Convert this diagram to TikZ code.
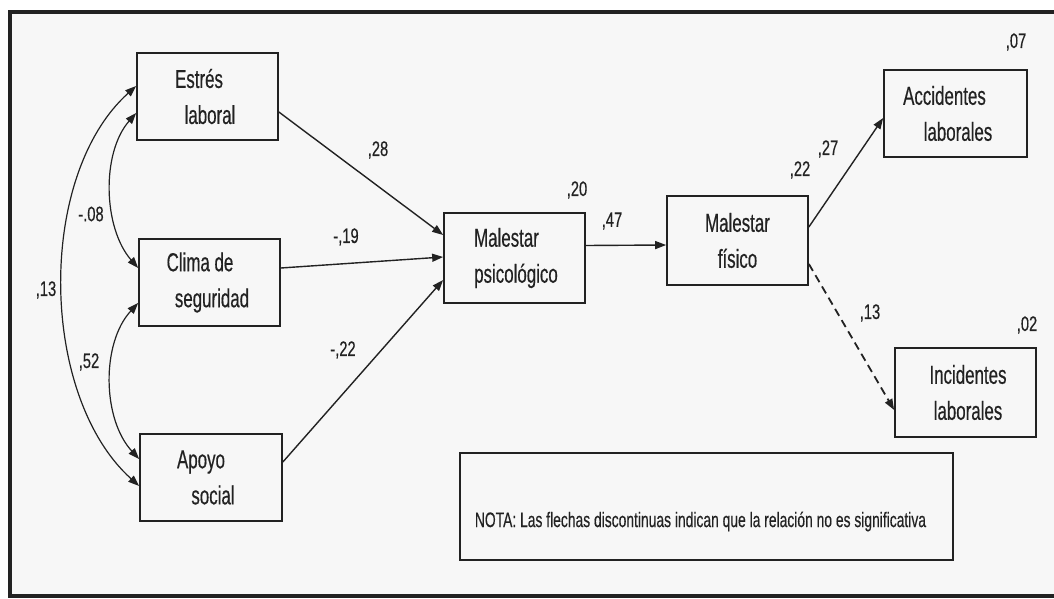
\documentclass[tikz,border=0pt]{standalone}
\usepackage{fontspec}
\newfontfamily\boxfont[FakeStretch=0.65,FakeBold=0.4]{Liberation Sans}
\newfontfamily\numfont[FakeStretch=0.7,FakeBold=0.4]{Liberation Sans}
\newfontfamily\notafont[FakeStretch=0.66,FakeBold=0.3]{Liberation Sans}
\usetikzlibrary{arrows.meta}
\definecolor{bg}{HTML}{F7F7F7}
\definecolor{ink}{HTML}{222222}
\newcommand{\shl}[1]{\hspace*{#1}}
\begin{document}
\begin{tikzpicture}[x=1pt,y=-1pt,
  var/.style={draw=ink, line width=1.7pt, fill=bg, minimum width=141pt, minimum height=87pt,
    inner sep=0pt, align=center, text=ink, font=\boxfont\fontsize{26}{36}\selectfont},
  coef/.style={text=ink, inner sep=0pt, font=\numfont\fontsize{21}{24}\selectfont},
  link/.style={draw=ink, line width=1.4pt, -{Triangle[length=11pt,width=8pt]}},
  cov/.style={draw=ink, line width=1.2pt, {Triangle[length=11pt,width=8pt]}-{Triangle[length=11pt,width=8pt]}},
]
\useasboundingbox (0,0) rectangle (1054,599);
\fill[white] (0,0) rectangle (1054,599);
\fill[bg] (10,12) rectangle (1054,596);
\draw[line width=4pt, ink] (1060,12) -- (10,12) -- (10,596) -- (1060,596);

% variables
\node[var] (est) at (207.5,96.5) {\shl{-17pt}Estrés\\\shl{5pt}laboral};
\node[var] (cli) at (209.5,282.5) {\shl{-19pt}Clima de\\\shl{5pt}seguridad};
\node[var, minimum width=142pt] (apo) at (211,477.5) {\shl{-20pt}Apoyo\\\shl{4pt}social};
\node[var, minimum height=90pt] (mps) at (514.5,258) {\shl{-16pt}Malestar\\\shl{3pt}psicológico};
\node[var, minimum height=89pt] (mfi) at (737.5,240.5) {Malestar\\físico};
\node[var, minimum width=143pt] (acc) at (955.5,113.5) {\shl{-22pt}Accidentes\\\shl{5pt}laborales};
\node[var, minimum height=89pt] (inc) at (965.5,392.5) {\shl{5pt}Incidentes\\\shl{5pt}laborales};
\node[draw=ink, line width=1.7pt, fill=bg, minimum width=493pt, minimum height=107pt, inner sep=0pt] (nota) at (706.5,506.5) {};
\node[text=ink, inner sep=0pt, font=\notafont\fontsize{21}{24}\selectfont] (notatxt) at ([xshift=-6pt,yshift=-15pt]nota.center)
  {NOTA: Las flechas discontinuas indican que la relación no es significativa};

% regression paths
\draw[link] ([yshift=-15.5pt]est.east) -- ([yshift=23pt]mps.west);
\draw[link] ([yshift=14.5pt]cli.east) -- ([yshift=1pt]mps.west);
\draw[link] ([yshift=15.5pt]apo.east) -- ([yshift=-22pt]mps.west);
\draw[link] ([yshift=12.5pt]mps.east) -- ([yshift=-4.5pt]mfi.west);
\draw[link] ([yshift=13.5pt]mfi.east) -- ([yshift=-4.5pt]acc.west);
\draw[link, line width=1.8pt, dash pattern=on 8pt off 5pt] ([yshift=-23.5pt]mfi.east) -- ([yshift=-17.5pt]inc.west);

% covariances
\draw[cov] ([yshift=-16.5pt]est.west) .. controls +(-35,40) and +(-35,-40) .. ([yshift=14.5pt]cli.west);
\draw[cov] ([yshift=-20.5pt]cli.west) .. controls +(-37,40) and +(-37,-40) .. ([yshift=18.5pt]apo.west);
\draw[cov] ([yshift=10.5pt]est.west) .. controls +(-100,90) and +(-100,-90) .. ([yshift=-8.5pt]apo.west);

% coefficients
\node[coef] (k1) at (91,214) {-.08};
\node[coef] (k2) at (46,290) {,13};
\node[coef] (k3) at (89,362) {,52};
\node[coef] (k4) at (378,150) {,28};
\node[coef] (k5) at (346,237) {-,19};
\node[coef] (k6) at (343,350) {-,22};
\node[coef] (k7) at (577,190) {,20};
\node[coef] (k8) at (612,221) {,47};
\node[coef] (k9) at (800,170) {,22};
\node[coef] (k10) at (828,149) {,27};
\node[coef] (k11) at (1016,42) {,07};
\node[coef] (k12) at (870,313) {,13};
\node[coef] (k13) at (1027,325) {,02};
\end{tikzpicture}
\end{document}
